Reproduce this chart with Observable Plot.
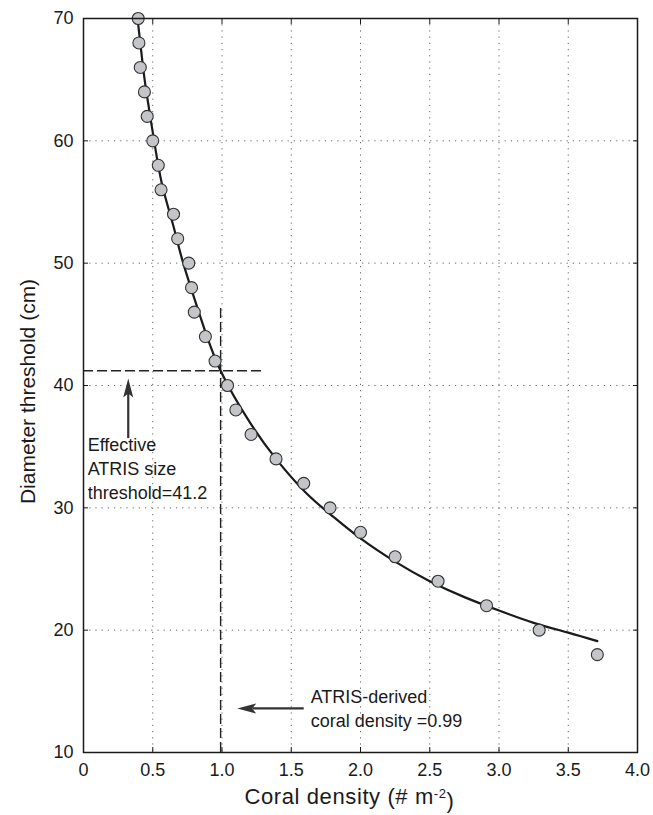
<!DOCTYPE html>
<html><head><meta charset="utf-8">
<script src="https://cdn.jsdelivr.net/npm/d3@7"></script>
<script src="https://cdn.jsdelivr.net/npm/@observablehq/plot@0.6"></script>
<style>body{margin:0;background:#fff;} svg{display:block;}</style>
</head><body><div id="chart"></div>
<script>
// observed points
const diameter = [70, 68, 66, 64, 62, 60, 58, 56, 54, 52, 50, 48, 46, 44, 42, 40, 38, 36, 34, 32, 30, 28, 26, 24, 22, 20, 18];
const density  = [0.395, 0.40, 0.41, 0.44, 0.46, 0.50, 0.54, 0.56, 0.65, 0.68, 0.76, 0.78, 0.80, 0.88, 0.95, 1.04, 1.10, 1.21, 1.39, 1.59, 1.78, 2.00, 2.25, 2.56, 2.91, 3.29, 3.71];
// fitted curve
const fitDensity  = [0.39, 0.42, 0.45, 0.51, 0.57, 0.65, 0.72, 0.85, 0.99, 1.2, 1.39, 1.6, 1.8, 2.0, 2.25, 2.5, 2.75, 3.0, 3.25, 3.5, 3.71];
const fitDiameter = [70, 67, 64.3, 60, 56.3, 53, 50, 45.4, 41.2, 37.0, 34.0, 31.3, 29.3, 27.5, 25.6, 24.0, 22.7, 21.6, 20.6, 19.8, 19.1];
// ticks
const xTicks = [0, 0.5, 1.0, 1.5, 2.0, 2.5, 3.0, 3.5, 4.0];
const xTickLabels = ["0", "0.5", "1.0", "1.5", "2.0", "2.5", "3.0", "3.5", "4.0"];
const yTicks = [10, 20, 30, 40, 50, 60, 70];
const yTickLabels = ["10", "20", "30", "40", "50", "60", "70"];
// annotations
const thresholdDiameter = 41.2;
const derivedDensity = 0.99;
const thresholdText = ["Effective", "ATRIS size", "threshold=41.2"];
const densityText = ["ATRIS-derived", "coral density =0.99"];
const arrowShafts = [
  {x1: 0.323, y1: 35.7, x2: 0.323, y2: 39.4},
  {x1: 1.59, y1: 13.6, x2: 1.22, y2: 13.6}
];
const arrowTips = [
  {x: 0.323, y: 40.57, angle: 0},
  {x: 1.11, y: 13.6, angle: -90}
];
const xLabel = "Coral density (# m-2)";
const yLabel = "Diameter threshold (cm)";

const points = diameter.map((d, i) => ({diameter: d, density: density[i]}));
const fit = fitDiameter.map((d, i) => ({diameter: d, density: fitDensity[i]}));

const font = "'Liberation Sans', Arial, Helvetica, sans-serif";
const gridX = xTicks.slice(1, -1);
const gridY = yTicks.slice(1, -1);

// notched arrowhead symbol, tip at the origin pointing up
const arrowHead = {
  draw(context) {
    context.moveTo(0, 0);
    context.lineTo(5, 19);
    context.lineTo(0, 15);
    context.lineTo(-5, 19);
    context.closePath();
  }
};

const chart = Plot.plot({
  width: 653,
  height: 815,
  marginLeft: 83,
  marginRight: 16,
  marginTop: 18,
  marginBottom: 63,
  style: {fontFamily: font, fontSize: "18px", color: "#1a1a1a", background: "#fff"},
  x: {domain: [0, 4], label: null},
  y: {domain: [10, 70], label: null},
  marks: [
    Plot.gridX(gridX, {stroke: "#666", strokeOpacity: 1, strokeDasharray: "1.2,5"}),
    Plot.gridY(gridY, {stroke: "#666", strokeOpacity: 1, strokeDasharray: "1.2,5"}),
    Plot.axisX(xTicks, {anchor: "bottom", tickSize: -5, tickPadding: 16, tickFormat: (d, i) => xTickLabels[i], fontSize: 18, stroke: "#1a1a1a"}),
    Plot.axisX(xTicks, {anchor: "top", tickSize: -5, tickFormat: null, text: null, stroke: "#1a1a1a"}),
    Plot.axisY(yTicks, {anchor: "left", tickSize: -5, tickPadding: 15, tickFormat: (d, i) => yTickLabels[i], fontSize: 18, stroke: "#1a1a1a"}),
    Plot.axisY(yTicks, {anchor: "right", tickSize: -5, tickFormat: null, text: null, stroke: "#1a1a1a"}),
    Plot.ruleY([thresholdDiameter], {x1: 0, x2: 1.3, stroke: "#222", strokeWidth: 1.4, strokeDasharray: "10,4"}),
    Plot.ruleX([derivedDensity], {y1: 10, y2: 46.5, stroke: "#222", strokeWidth: 1.4, strokeDasharray: "10,4"}),
    Plot.line(fit, {x: "density", y: "diameter", curve: "natural", stroke: "#1a1a1a", strokeWidth: 2.2}),
    Plot.dot(points, {x: "density", y: "diameter", r: 6, fill: "#c3c5c8", stroke: "#333", strokeWidth: 1.1}),
    Plot.link(arrowShafts, {x1: "x1", y1: "y1", x2: "x2", y2: "y2", stroke: "#333", strokeWidth: 2.2}),
    Plot.dot(arrowTips, {x: "x", y: "y", rotate: "angle", symbol: arrowHead, fill: "#333", stroke: "none", r: 5}),
    Plot.text([thresholdText.join("\n")], {x: 0.03, y: 36.0, text: d => d, textAnchor: "start", lineAnchor: "top", lineHeight: 1.33, fontSize: 18, fill: "#1a1a1a"}),
    Plot.text([densityText.join("\n")], {x: 1.64, y: 15.45, text: d => d, textAnchor: "start", lineAnchor: "top", lineHeight: 1.33, fontSize: 18, fill: "#1a1a1a"}),
    Plot.text([xLabel], {frameAnchor: "bottom", dx: -11, dy: 44, text: d => d, textAnchor: "middle", lineAnchor: "middle", fontSize: 22, fill: "#1a1a1a"}),
    Plot.text([yLabel], {frameAnchor: "left", dx: -55, dy: 6, rotate: -90, text: d => d, textAnchor: "middle", lineAnchor: "middle", fontSize: 21, fill: "#1a1a1a"}),
    Plot.frame({stroke: "#1a1a1a", strokeWidth: 1.5})
  ]
});

// superscript in x label
d3.select(chart).selectAll("text").filter(function() { return this.textContent === xLabel; })
  .each(function() {
    const t = d3.select(this);
    t.text("");
    t.attr("letter-spacing", "0.6px");
    t.append("tspan").text("Coral density (# m");
    t.append("tspan").attr("dy", "-0.45em").attr("font-size", "13px").text("-2");
    t.append("tspan").attr("dy", "0.45em").text(")");
  });

document.getElementById("chart").appendChild(chart);
</script>
</body></html>
